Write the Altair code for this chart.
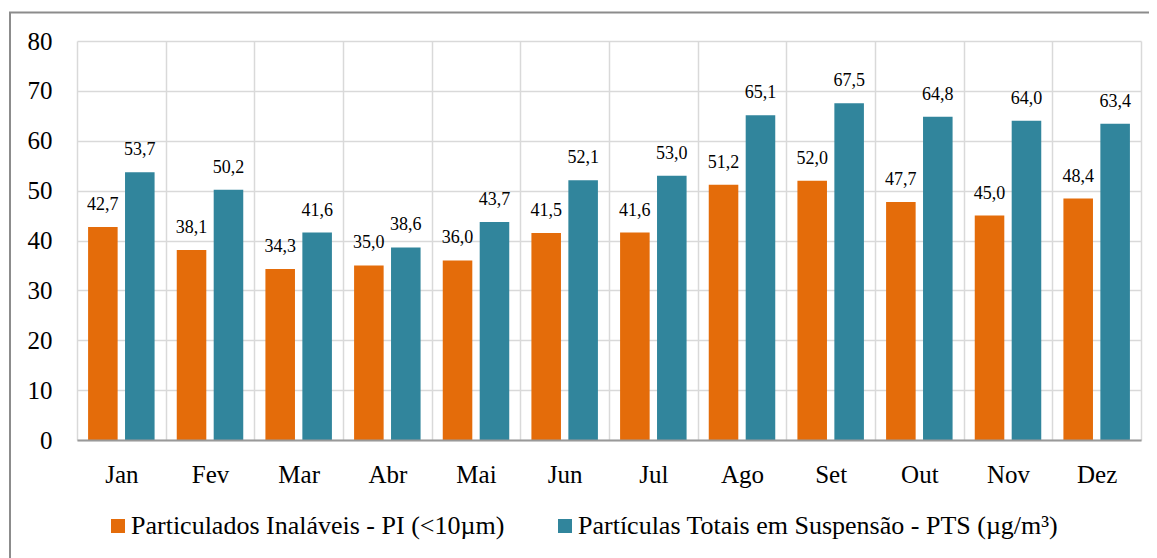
import altair as alt
import pandas as pd

months = ["Jan", "Fev", "Mar", "Abr", "Mai", "Jun", "Jul", "Ago", "Set", "Out", "Nov", "Dez"]
pi_values = [42.7, 38.1, 34.3, 35.0, 36.0, 41.5, 41.6, 51.2, 52.0, 47.7, 45.0, 48.4]
pts_values = [53.7, 50.2, 41.6, 38.6, 43.7, 52.1, 53.0, 65.1, 67.5, 64.8, 64.0, 63.4]
series = ["Particulados Inaláveis - PI (<10µm)", "Partículas Totais em Suspensão - PTS (µg/m³)"]
colors = ["#E46C0A", "#31859C"]
y_ticks = [0, 10, 20, 30, 40, 50, 60, 70, 80]

rows = []
for m, a, b in zip(months, pi_values, pts_values):
    rows.append({"mes": m, "serie": series[0], "valor": a})
    rows.append({"mes": m, "serie": series[1], "valor": b})
df = pd.DataFrame(rows)

FONT = "'Liberation Serif', 'Times New Roman', 'DejaVu Serif', serif"

base = alt.Chart(df).encode(
    x=alt.X(
        "mes:N",
        sort=months,
        scale=alt.Scale(paddingInner=0, paddingOuter=0),
        axis=alt.Axis(
            title=None, labelAngle=0, tickBand="extent", grid=True,
            gridColor="#d9d9d9", gridWidth=1.5, ticks=False, tickSize=0,
            domainColor="#999999", domainWidth=2, labelFont=FONT,
            labelFontSize=25, labelPadding=22, labelColor="#000000", zindex=1,
        ),
    ),
    xOffset=alt.XOffset("serie:N", sort=series,
                        scale=alt.Scale(paddingInner=0.2, paddingOuter=0.3)),
    y=alt.Y(
        "valor:Q",
        scale=alt.Scale(domain=[0, 80], nice=False),
        axis=alt.Axis(
            title=None, values=y_ticks, domain=False, ticks=False, tickSize=0,
            gridColor="#d9d9d9", gridWidth=1.5, labelFont=FONT, labelFontSize=25,
            labelPadding=25, labelColor="#000000",
        ),
    ),
)

bars = base.mark_bar().encode(
    color=alt.Color(
        "serie:N", sort=series,
        scale=alt.Scale(domain=series, range=colors),
        legend=alt.Legend(
            title=None, orient="none", legendX=28, legendY=472,
            direction="horizontal", symbolType="square", symbolSize=196,
            symbolStrokeWidth=0, labelFont=FONT, labelFontSize=26,
            labelColor="#000000", columnPadding=47, labelOffset=0, padding=0,
            labelLimit=800,
        ),
    )
)

labels = base.transform_calculate(
    rotulo="replace(format(datum.valor, '.1f'), '.', ',')"
).mark_text(
    baseline="bottom", dy=-13, fontSize=18, font=FONT, color="#000000"
).encode(text="rotulo:N")

border = alt.Chart(pd.DataFrame({"k": [0]})).mark_rect(
    fillOpacity=0, stroke="#8c8c8c", strokeWidth=2
).encode(
    x=alt.value(-67), x2=alt.value(1400), y=alt.value(-28.5), y2=alt.value(900)
)

chart = alt.layer(border, bars, labels).properties(
    width=1064, height=399,
    autosize=alt.AutoSizeParams(type="none"),
    padding={"left": 69, "top": 33, "right": 8, "bottom": 125},
).configure_view(stroke="transparent")

chart.save("out.html", embed_options={"renderer": "svg", "actions": False})
